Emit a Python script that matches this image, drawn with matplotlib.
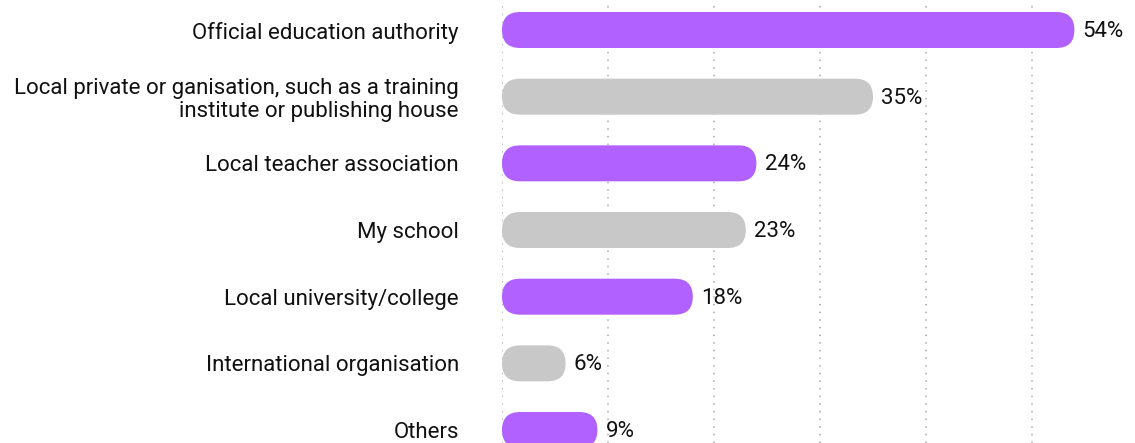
import matplotlib
matplotlib.use("Agg")
import matplotlib.pyplot as plt
from matplotlib.patches import FancyBboxPatch

categories = [
    "Official education authority",
    "Local private or ganisation, such as a training\ninstitute or publishing house",
    "Local teacher association",
    "My school",
    "Local university/college",
    "International organisation",
    "Others",
]
values = [54, 35, 24, 23, 18, 6, 9]
bar_colors = ["#B061FF", "#C8C8C8", "#B061FF", "#C8C8C8", "#B061FF", "#C8C8C8", "#B061FF"]
grid_ticks = [0, 10, 20, 30, 40, 50]

plt.rcParams["font.family"] = ["Roboto", "DejaVu Sans"]

W, H, DPI = 1135, 443, 100
fig = plt.figure(figsize=(W / DPI, H / DPI), dpi=DPI)
left_px = 502
ax = fig.add_axes([left_px / W, 0, 1 - left_px / W, 1])

px_per_unit_x = 10.6
ax.set_xlim(0, (W - left_px) / px_per_unit_x)
row_px = 66.67
top_px = 30
ax.set_ylim((H - top_px) / row_px, -top_px / row_px)

for s in ax.spines.values():
    s.set_visible(False)
ax.set_xticks([])

# dotted vertical guides
for g in grid_ticks:
    ax.axvline(g, color="#A8A8A8", lw=1.1, ls=(0, (1, 4)), zorder=0)

bar_h_px = 36
bar_h = bar_h_px / row_px
r_x = (bar_h_px / 2) / px_per_unit_x
r_y = bar_h / 2
aspect = r_y / r_x

for i, (v, c) in enumerate(zip(values, bar_colors)):
    patch = FancyBboxPatch(
        (0, i - bar_h / 2), v, bar_h,
        boxstyle=f"round,pad=0,rounding_size={r_x}",
        mutation_aspect=aspect,
        fc=c, ec="none", zorder=2,
    )
    ax.add_patch(patch)
    ax.annotate(f"{v}%", (v, i), xytext=(6, -1), textcoords="offset points",
                ha="left", va="center", fontsize=16, color="#111111")

ax.set_yticks(range(len(categories)))
ax.set_yticklabels(categories, fontsize=16, color="#111111", linespacing=1.1)
ax.tick_params(axis="y", length=0, pad=31)

fig.savefig("out.png", dpi=DPI)
